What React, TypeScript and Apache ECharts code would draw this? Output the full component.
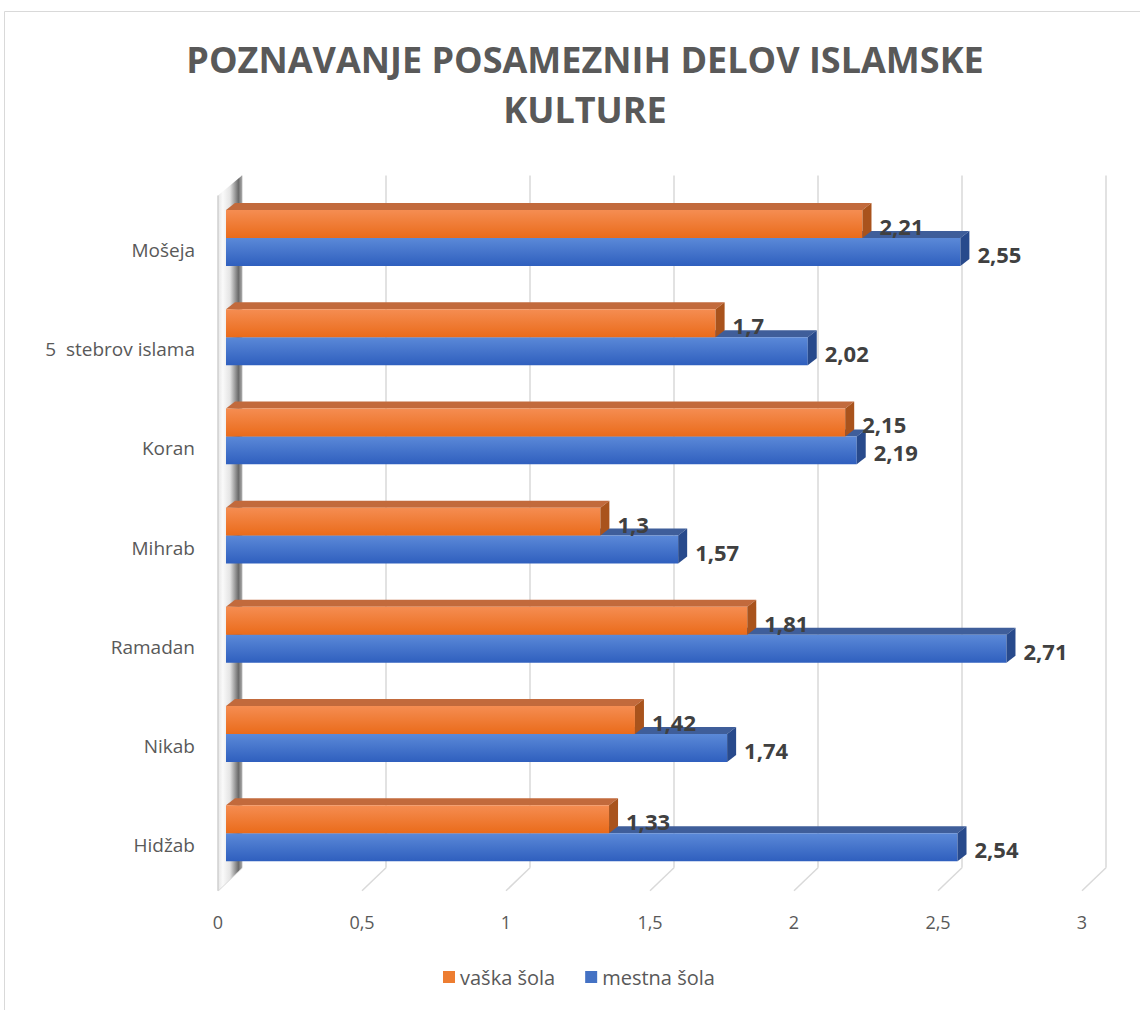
import React, { useEffect, useRef } from "react";
import * as echarts from "echarts";

const categories = ["Mošeja", "5  stebrov islama", "Koran", "Mihrab", "Ramadan", "Nikab", "Hidžab"];
const vaskaSola = [2.21, 1.7, 2.15, 1.3, 1.81, 1.42, 1.33];
const mestnaSola = [2.55, 2.02, 2.19, 1.57, 2.71, 1.74, 2.54];
const xTicks = [0, 0.5, 1, 1.5, 2, 2.5, 3];
const seriesNames = ["vaška šola", "mestna šola"];

const FONT = "'Open Sans', 'Noto Sans', sans-serif";
const fmt = (v: number) => String(v).replace(".", ",");

function barRenderer(kind: "o" | "b") {
  const front =
    kind === "o"
      ? new echarts.graphic.LinearGradient(0, 0, 0, 1, [
          { offset: 0, color: "#F58D52" },
          { offset: 1, color: "#EA6B1A" },
        ])
      : new echarts.graphic.LinearGradient(0, 0, 0, 1, [
          { offset: 0, color: "#5B89D8" },
          { offset: 1, color: "#2F5FBE" },
        ]);
  const topC = kind === "o" ? "#C26A3C" : "#3F5E9A";
  const sideC = kind === "o" ? "#A9531C" : "#284A8C";
  return (params: any, api: any) => {
    const v = api.value(0);
    const c = api.value(1);
    const p0 = api.coord([0, c]);
    const p1 = api.coord([v, c]);
    const band = api.size([0, 1])[1];
    const h = band * 0.282;
    const top = kind === "o" ? p0[1] - h : p0[1];
    const x0 = p0[0];
    const x1 = p1[0];
    const dx = 9;
    const dy = -7;
    return {
      type: "group",
      children: [
        {
          type: "polygon",
          shape: { points: [[x0, top], [x0 + dx, top + dy], [x1 + dx, top + dy], [x1, top]] },
          style: { fill: topC },
        },
        {
          type: "rect",
          shape: { x: x0, y: top, width: x1 - x0, height: h },
          style: { fill: front },
        },
        {
          type: "polygon",
          shape: { points: [[x1, top], [x1 + dx, top + dy], [x1 + dx, top + h + dy], [x1, top + h]] },
          style: { fill: sideC },
        },
        {
          type: "text",
          x: x1 + 17,
          y: top + h / 2 + 2,
          style: {
            text: fmt(v),
            fontSize: 22,
            fontWeight: "bold",
            fontFamily: FONT,
            fill: "#404040",
            align: "left",
            verticalAlign: "middle",
          },
        },
      ],
    };
  };
}

export default function App() {
  const ref = useRef<HTMLDivElement>(null);
  useEffect(() => {
    if (!ref.current) return;
    const chart = echarts.init(ref.current, undefined, { renderer: "svg" });
    const option: any = {
      animation: false,
      textStyle: { fontFamily: FONT },
      title: {
        text: "POZNAVANJE POSAMEZNIH DELOV ISLAMSKE\nKULTURE",
        left: 580,
        textAlign: "center",
        top: 29,
        textStyle: {
          fontSize: 36,
          fontWeight: "bold",
          color: "#595959",
          lineHeight: 50,
          fontFamily: FONT,
        },
      },
      graphic: [
        {
          type: "rect",
          shape: { x: 4.5, y: 11.5, width: 1300, height: 1300 },
          style: { fill: "none", stroke: "#D9D9D9", lineWidth: 1 },
          silent: true,
        },
      ],
      legend: {
        data: seriesNames,
        icon: "rect",
        itemWidth: 12,
        itemHeight: 12,
        itemGap: 30,
        left: 438,
        top: 962,
        textStyle: { fontSize: 20, color: "#595959", fontFamily: FONT },
      },
      grid: [
        { left: 226, width: 864, top: 188.4, height: 694.4 },
        { left: 218, width: 864, top: 188.4, height: 694.4 },
      ],
      xAxis: [
        { type: "value", gridIndex: 0, min: 0, max: 3, interval: 0.5, show: false },
        {
          type: "value",
          gridIndex: 1,
          min: 0,
          max: 3,
          interval: 0.5,
          axisLine: { show: false },
          axisTick: { show: false },
          splitLine: { show: false },
          axisLabel: { margin: 30, fontSize: 18, color: "#595959", formatter: (v: number) => fmt(v) },
        },
      ],
      yAxis: [
        {
          type: "category",
          gridIndex: 0,
          data: categories,
          inverse: true,
          axisLine: { show: false },
          axisTick: { show: false },
          splitLine: { show: false },
          axisLabel: {
            margin: 31,
            fontSize: 19,
            color: "#595959",
            verticalAlign: "top",
            lineHeight: 24,
          },
        },
        { type: "category", gridIndex: 1, data: categories, inverse: true, show: false },
      ],
      series: [
        {
          type: "custom",
          name: "grid",
          xAxisIndex: 0,
          yAxisIndex: 0,
          silent: true,
          data: xTicks.map((v) => [v, 0]),
          encode: { x: 0, y: 1 },
          renderItem: (params: any, api: any) => {
            const x = api.coord([api.value(0), 0])[0];
            const cs = params.coordSys;
            const xb = x + 16;
            const xf = x - 8;
            const top = cs.y - 13;
            const floor = cs.y + cs.height - 15;
            const ffloor = cs.y + cs.height + 8;
            return {
              type: "group",
              children: [
                { type: "line", shape: { x1: xb, y1: top, x2: xb, y2: floor }, style: { stroke: "#D9D9D9", lineWidth: 1.5 } },
                { type: "line", shape: { x1: xb, y1: floor, x2: xf, y2: ffloor }, style: { stroke: "#D9D9D9", lineWidth: 1.5 } },
              ],
            };
          },
        },
        {
          type: "custom",
          name: "wall",
          xAxisIndex: 0,
          yAxisIndex: 0,
          silent: true,
          data: [[0, 0]],
          encode: { x: 0, y: 1 },
          renderItem: (params: any, api: any) => {
            const x = api.coord([0, 0])[0];
            const cs = params.coordSys;
            const xb = x + 16;
            const xf = x - 8;
            const top = cs.y - 13;
            const floor = cs.y + cs.height - 15;
            const ffloor = cs.y + cs.height + 8;
            return {
              type: "group",
              children: [
                {
                  type: "polygon",
                  shape: { points: [[xf, top + 20], [xb, top], [xb, floor], [xf, ffloor]] },
                  style: {
                    fill: new echarts.graphic.LinearGradient(0, 0, 1, 0, [
                      { offset: 0, color: "#E6E6E6" },
                      { offset: 0.2, color: "#FAFAFA" },
                      { offset: 0.5, color: "#E4E4E4" },
                      { offset: 0.85, color: "#6A6A6A" },
                      { offset: 1, color: "#A8A8A8" },
                    ]),
                  },
                },
                { type: "line", shape: { x1: xf, y1: top + 20, x2: xf, y2: ffloor }, style: { stroke: "#D0D0D0", lineWidth: 1.5 } },
              ],
            };
          },
        },
        {
          type: "custom",
          name: "mestna šola",
          xAxisIndex: 0,
          yAxisIndex: 0,
          itemStyle: { color: "#4472C4" },
          data: mestnaSola.map((v, i) => [v, i]),
          encode: { x: 0, y: 1 },
          renderItem: barRenderer("b"),
        },
        {
          type: "custom",
          name: "vaška šola",
          xAxisIndex: 0,
          yAxisIndex: 0,
          itemStyle: { color: "#ED7D31" },
          data: vaskaSola.map((v, i) => [v, i]),
          encode: { x: 0, y: 1 },
          renderItem: barRenderer("o"),
        },
      ],
    };
    chart.setOption(option);
    return () => chart.dispose();
  }, []);
  return (
    <div
      ref={ref}
      style={{ position: "absolute", left: 0, top: 0, width: 1140, height: 1010, background: "#fff" }}
    />
  );
}
